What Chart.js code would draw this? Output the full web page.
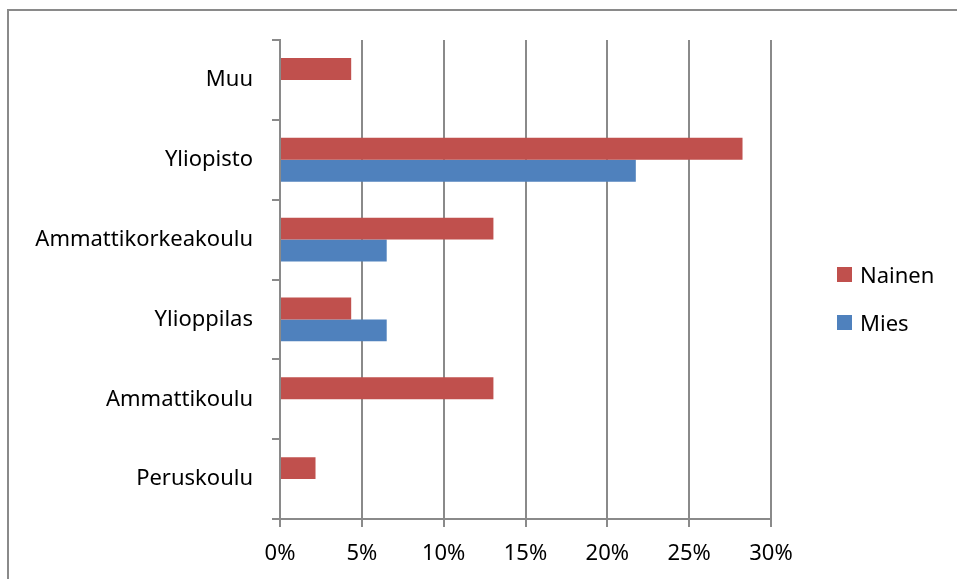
<!DOCTYPE html>
<html>
<head>
<meta charset="utf-8">
<script src="https://cdn.jsdelivr.net/npm/chart.js@4"></script>
<style>
  html, body { margin: 0; padding: 0; background: #fff; overflow: hidden; }
  #wrap { position: relative; width: 957px; height: 579px; }
  #frame { position: absolute; left: 7px; top: 9px; width: 1200px; height: 800px;
           border: 2px solid #8a8a8a; box-sizing: border-box; pointer-events: none; }
  .leg { position: absolute; left: 837px; font: 22px "Noto Sans", sans-serif; color: #000; }
  .leg span.box { position: absolute; left: 0; top: 0; width: 15px; height: 15px; }
  .leg span.txt { position: absolute; left: 23px; top: -8px; white-space: nowrap; line-height: 30px; }
</style>
</head>
<body>
<div id="wrap">
  <canvas id="chart"></canvas>
  <div id="frame"></div>
  <div id="legend"></div>
</div>
<script>
const categories = ['Muu', 'Yliopisto', 'Ammattikorkeakoulu', 'Ylioppilas', 'Ammattikoulu', 'Peruskoulu'];
const nainen = [4.35, 28.26, 13.04, 4.35, 13.04, 2.17];
const mies = [0, 21.74, 6.52, 6.52, 0, 0];
const xTicks = [0, 5, 10, 15, 20, 25, 30];

const RED = '#C0504D';
const BLUE = '#4F81BD';
const GRID = '#8a8a8a';

Chart.defaults.font.family = '"Noto Sans", sans-serif';
Chart.defaults.font.size = 22;
Chart.defaults.color = '#000';

const series = [
  { label: 'Nainen', data: nainen, color: RED },
  { label: 'Mies', data: mies, color: BLUE },
];

// html legend, placed like the original
const legendEl = document.getElementById('legend');
series.forEach((s, i) => {
  const item = document.createElement('div');
  item.className = 'leg';
  item.style.top = (267 + i * 48) + 'px';
  item.innerHTML = '<span class="box" style="background:' + s.color + '"></span><span class="txt">' + s.label + '</span>';
  legendEl.appendChild(item);
});

const canvas = document.getElementById('chart');
canvas.width = 957;
canvas.height = 579;

new Chart(canvas.getContext('2d'), {
  type: 'bar',
  data: {
    labels: categories,
    datasets: series.map(s => ({
      label: s.label,
      data: s.data,
      backgroundColor: s.color,
      borderWidth: 0,
      barPercentage: 1,
      categoryPercentage: 0.55,
    })),
  },
  options: {
    indexAxis: 'y',
    responsive: false,
    animation: false,
    layout: { padding: { left: 0, top: 40, right: 186, bottom: 0 } },
    plugins: {
      legend: { display: false },
      tooltip: { enabled: false },
    },
    scales: {
      x: {
        min: 0,
        max: 30,
        afterFit: s => { s.height = 60; },
        afterBuildTicks: s => { s.ticks = xTicks.map(v => ({ value: v })); },
        ticks: {
          padding: 14,
          callback: v => v + '%',
        },
        grid: { color: GRID, lineWidth: 2, tickLength: 8 },
        border: { color: GRID, width: 2 },
      },
      y: {
        afterFit: s => { s.width = 280; },
        ticks: { padding: 19 },
        grid: { drawOnChartArea: false, offset: true, color: GRID, lineWidth: 2, tickLength: 8 },
        border: { color: GRID, width: 2 },
      },
    },
  },
});
</script>
</body>
</html>
